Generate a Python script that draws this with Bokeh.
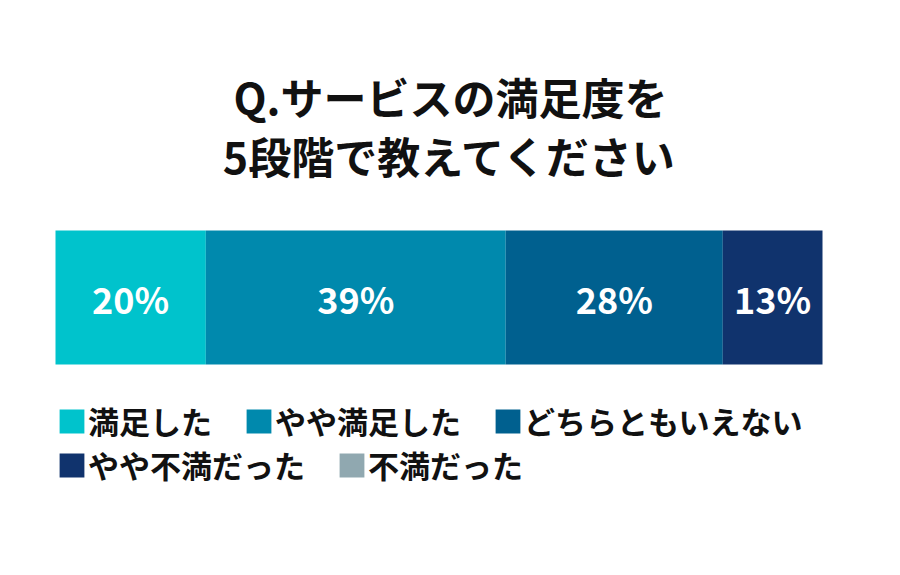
import numpy as np
from bokeh.plotting import figure
from bokeh.models import ColumnDataSource, Range1d, Label, Legend, LegendItem
from bokeh.core.properties import value
from bokeh.embed import file_html
from bokeh.resources import INLINE

# ---- data ----
title_lines = ["Q.サービスの満足度を", "5段階で教えてください"]
categories = ["満足した", "やや満足した", "どちらともいえない", "やや不満だった", "不満だった"]
values = [19.6, 39.1, 28.3, 13.0, 0.0]
labels = ["20%", "39%", "28%", "13%", ""]
colors = ["#00C3CC", "#0089AD", "#00608F", "#10336D", "#90A8B0"]

# ---- layout ----
W, H = 884, 559
BAR_L, BAR_R = 55, 822          # screen px of bar extent
BAR_CY, BAR_H = 262, 134        # bar centre (from bottom) and height in px
FONT = "Noto Sans CJK JP"

px_per = (BAR_R - BAR_L) / 100.0
x_range = Range1d(-BAR_L / px_per, 100 + (W - BAR_R) / px_per)
y_range = Range1d(0, H)

vals = np.array(values)
right = np.cumsum(vals)
left = right - vals
src = ColumnDataSource(dict(
    cat=categories, left=left, right=right, mid=(left + right) / 2,
    y=[BAR_CY] * len(values), color=colors, label=labels,
))

p = figure(width=W, height=H, x_range=x_range, y_range=y_range,
           toolbar_location=None, output_backend="svg", min_border=0,
           x_axis_location=None, y_axis_location=None)
p.grid.visible = False
p.outline_line_color = None
p.background_fill_color = "white"
p.border_fill_color = "white"

r = p.hbar(y="y", left="left", right="right", height=BAR_H, fill_color="color",
           line_color=None, source=src)

p.text(x="mid", y="y", text="label", source=src, text_color="white",
       text_font=value(FONT), text_font_size="36px", text_font_style="bold",
       text_align="center", text_baseline="middle")

# title
for t, yy in zip(title_lines, [464, 405]):
    p.add_layout(Label(x=W / 2 + 8, y=yy, x_units="screen", y_units="screen", text=t,
                       text_font=FONT, text_font_size="43px", text_font_style="bold",
                       text_color="#111111", text_align="center", text_baseline="middle"))

def make_legend(idx, loc):
    lg = Legend(items=[LegendItem(label=categories[i], renderers=[r], index=i) for i in idx],
                orientation="horizontal", location=loc,
                glyph_width=31, glyph_height=30, label_standoff=1, spacing=31,
                padding=0, margin=0, border_line_color=None, background_fill_alpha=0,
                label_text_font=FONT, label_text_font_size="31px",
                label_text_font_style="bold", label_text_color="#111111",
                label_text_baseline="middle")
    p.add_layout(lg)

make_legend([0, 1, 2], (56, 116))
make_legend([3, 4], (56, 72))

open("out.html", "w").write(file_html(p, INLINE))
